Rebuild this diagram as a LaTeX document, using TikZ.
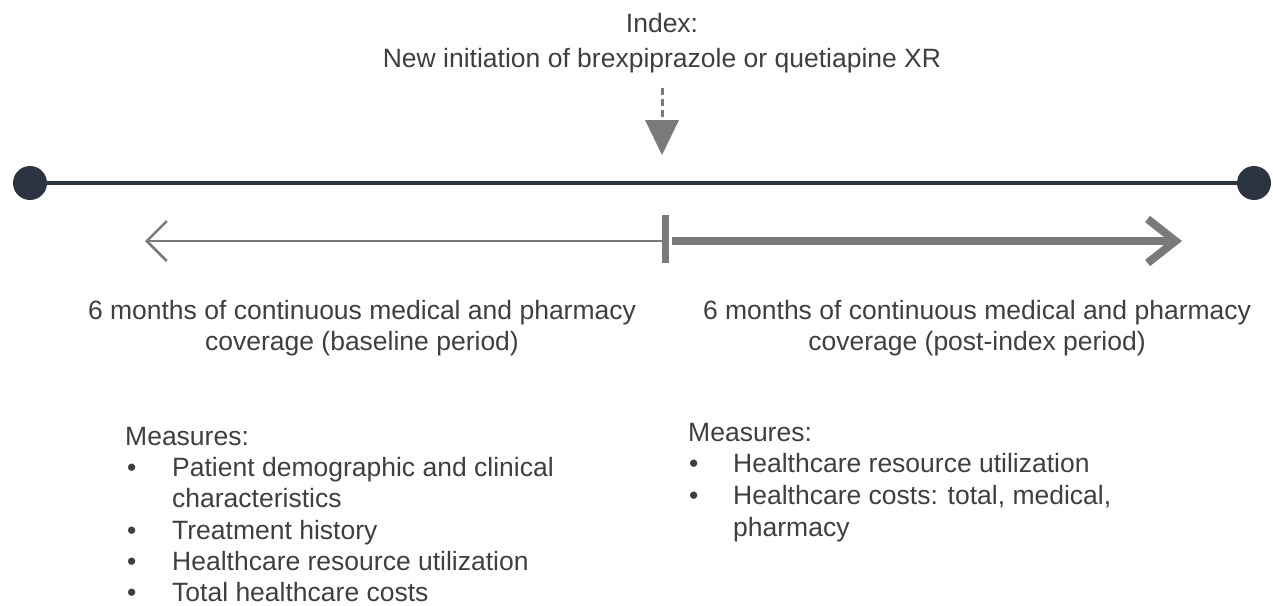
\documentclass[tikz,border=0pt]{standalone}
\usepackage{fontspec}
\setmainfont{Liberation Sans}
\usetikzlibrary{arrows.meta}
\definecolor{txt}{HTML}{3F3F3F}
\definecolor{dark}{HTML}{2B3440}
\definecolor{gry}{HTML}{7A7A7A}
\begin{document}
\begin{tikzpicture}[x=1pt,y=-1pt,
  lbl/.style={inner sep=0pt,text=txt,font=\fontsize{26.5}{32}\selectfont},
  dot/.style={circle,fill=dark,minimum size=34pt,inner sep=0pt},
  ]
\useasboundingbox (0,0) rectangle (1273,605);
% header
\node[lbl,anchor=base] (idx) at (662,32) {Index:};
\node[lbl,anchor=base] (idx2) at (662,67) {New initiation of brexpiprazole or quetiapine XR};
% dashed arrow
\coordinate (da) at (662,88);
\coordinate (db) at (662,122);
\draw[gry,line width=3pt,dash pattern=on 7pt off 4pt] (da) -- (db);
\fill[gry] (645,120) -- (679,120) -- (662,155) -- cycle;
% timeline
\node[dot] (L) at (30,183) {};
\node[dot] (R) at (1254,183) {};
\draw[dark,line width=3.5pt] (L) -- (R);
% tick
\node[fill=gry,minimum width=7pt,minimum height=48pt,inner sep=0pt] (tick) at (665.5,239) {};
\coordinate (lt) at (145,241);
\coordinate (rt) at (1182,241);
\draw[gry,line width=2.5pt,-{Straight Barb[length=20pt,width=40pt,line width=2.5pt]}] (tick.west) ++(0,2) -- (lt);
\draw[gry,line width=8pt,-{Straight Barb[length=28pt,width=44pt,line width=8pt]}] (tick.east) ++(3,2) -- (rt);
% period labels
\node[lbl,anchor=base] (pl1) at (362,319) {6 months of continuous medical and pharmacy};
\node[lbl,anchor=base] (pl2) at (362,350) {coverage (baseline period)};
\node[lbl,anchor=base] (pr1) at (977,319) {6 months of continuous medical and pharmacy};
\node[lbl,anchor=base] (pr2) at (977,350) {coverage (post-index period)};
% left measures
\node[lbl,anchor=base west] (ml) at (125,445) {Measures:};
\node[lbl,anchor=base west] (b1) at (127,476) {•};
\node[lbl,anchor=base west] (l1) at (172,476) {Patient demographic and clinical};
\node[lbl,anchor=base west] (l1b) at (172,507) {characteristics};
\node[lbl,anchor=base west] (b2) at (127,539) {•};
\node[lbl,anchor=base west] (l2) at (172,539) {Treatment history};
\node[lbl,anchor=base west] (b3) at (127,570) {•};
\node[lbl,anchor=base west] (l3) at (172,570) {Healthcare resource utilization};
\node[lbl,anchor=base west] (b4) at (127,601) {•};
\node[lbl,anchor=base west] (l4) at (172,601) {Total healthcare costs};
% right measures
\node[lbl,anchor=base west] (mr) at (688,441) {Measures:};
\node[lbl,anchor=base west] (c1) at (689,472) {•};
\node[lbl,anchor=base west] (r1) at (733,472) {Healthcare resource utilization};
\node[lbl,anchor=base west] (c2) at (689,504) {•};
\node[lbl,anchor=base west] (r2) at (733,504) {Healthcare costs: total, medical,};
\node[lbl,anchor=base west] (r2b) at (733,536) {pharmacy};
\end{tikzpicture}
\end{document}
